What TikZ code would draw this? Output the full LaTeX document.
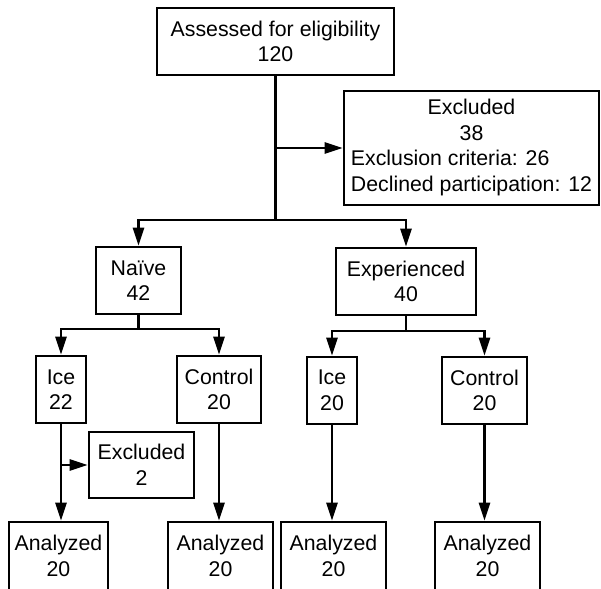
\documentclass[tikz,border=0pt]{standalone}
\usepackage{fontspec}
\setmainfont{Liberation Sans}
\usetikzlibrary{arrows.meta}
\begin{document}
\begin{tikzpicture}[x=1pt,y=-1pt,
  box/.style={draw, line width=2.7pt, inner sep=0pt, align=center,
    font=\fontsize{21.3}{25.6}\selectfont},
  conn/.style={line width=2.6pt},
  arr/.style={line width=2.6pt, -{Triangle[length=18pt,width=11pt]}}]
\clip (0,0) rectangle (601,588);
\fill[white] (0,0) rectangle (601,588);
% boxes
\node[box, minimum width=237pt, minimum height=67pt] (top) at (275.5,41.5) {Assessed for eligibility\\120};
\node[box, minimum width=255pt, minimum height=114pt] (excl) at (471.5,148)
  {\begin{tabular}{@{}l@{}}\multicolumn{1}{@{}c@{}}{Excluded}\\ \multicolumn{1}{@{}c@{}}{38}\\ Exclusion criteria: 26\\ Declined participation: 12\end{tabular}};
\node[box, minimum width=85pt, minimum height=67pt] (naive) at (138.5,280.5) {Naïve\\42};
\node[box, minimum width=140pt, minimum height=67pt] (exper) at (406,281.5) {Experienced\\40};
\node[box, minimum width=50pt, minimum height=67pt] (ice1) at (61,389.5) {Ice\\22};
\node[box, minimum width=84pt, minimum height=67pt] (ctl1) at (219,389.5) {Control\\20};
\node[box, minimum width=50pt, minimum height=67pt] (ice2) at (332,390.5) {Ice\\20};
\node[box, minimum width=85pt, minimum height=67pt] (ctl2) at (484.5,390.5) {Control\\20};
\node[box, minimum width=105pt, minimum height=66pt] (exc2) at (141.5,465) {Excluded\\2};
\node[box, minimum width=99pt, minimum height=68pt] (an1) at (58.5,556) {Analyzed\\20};
\node[box, minimum width=105pt, minimum height=68pt] (an2) at (220.5,556) {Analyzed\\20};
\node[box, minimum width=105pt, minimum height=68pt] (an3) at (333.5,556) {Analyzed\\20};
\node[box, minimum width=105pt, minimum height=68pt] (an4) at (487.5,556) {Analyzed\\20};
% junctions
\coordinate (j0) at (top.south |- excl.west);
\coordinate (j1) at (275.5,220);
\coordinate (j2) at (138.5,329);
\coordinate (j3) at (406,331);
\coordinate (j4) at (ice1.south |- exc2.west);
% connectors
\draw[conn] (top.south) -- (j1);
\draw[arr] (j0) -- (excl.west);
\draw[arr] (j1) -| (naive.north);
\draw[arr] (j1) -| (exper.north);
\draw[conn] (naive.south) -- (j2);
\draw[arr] (j2) -| (ice1.north);
\draw[arr] (j2) -| (ctl1.north);
\draw[conn] (exper.south) -- (j3);
\draw[arr] (j3) -| (ice2.north);
\draw[arr] (j3) -| (ctl2.north);
\draw[arr] (j4) -- (exc2.west);
\draw[arr] (ice1.south) -- (ice1.south |- an1.north);
\draw[arr] (ctl1.south) -- (ctl1.south |- an2.north);
\draw[arr] (ice2.south) -- (ice2.south |- an3.north);
\draw[arr] (ctl2.south) -- (ctl2.south |- an4.north);
\end{tikzpicture}
\end{document}
